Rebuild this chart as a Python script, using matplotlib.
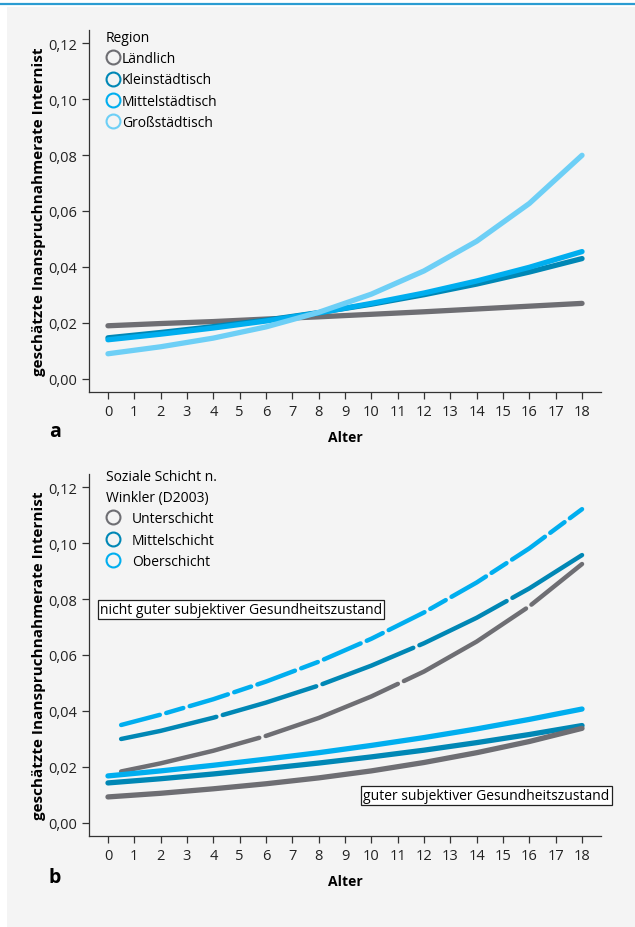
import matplotlib
matplotlib.use("Agg")
import matplotlib.pyplot as plt
from matplotlib.patches import Rectangle
from matplotlib.lines import Line2D

plt.rcParams['font.family'] = ['Open Sans', 'DejaVu Sans']

# --- data (age in years, predicted rate) ---
ages = [0, 2, 4, 6, 8, 10, 12, 14, 16, 18]

# panel a: region
region_names = ['Ländlich', 'Kleinstädtisch', 'Mittelstädtisch', 'Großstädtisch']
laendlich = [0.0190, 0.0198, 0.0205, 0.0214, 0.0222, 0.0231, 0.0240, 0.0250, 0.0260, 0.0270]
klein = [0.0147, 0.0166, 0.0187, 0.0210, 0.0237, 0.0267, 0.0301, 0.0339, 0.0382, 0.0430]
mittel = [0.0140, 0.0160, 0.0182, 0.0207, 0.0236, 0.0270, 0.0307, 0.0350, 0.0399, 0.0455]
gross = [0.0090, 0.0115, 0.0146, 0.0186, 0.0238, 0.0303, 0.0386, 0.0492, 0.0627, 0.0799]

# panel b: social class x self-rated health
schicht_names = ['Unterschicht', 'Mittelschicht', 'Oberschicht']
ages_ng = [0.5, 2, 4, 6, 8, 10, 12, 14, 16, 18]
unter_ng = [0.0184, 0.0213, 0.0258, 0.0311, 0.0375, 0.0452, 0.0541, 0.0648, 0.0774, 0.0925]
mittel_ng = [0.0300, 0.0329, 0.0376, 0.0430, 0.0491, 0.0562, 0.0642, 0.0733, 0.0838, 0.0957]
ober_ng = [0.0350, 0.0387, 0.0442, 0.0505, 0.0576, 0.0658, 0.0752, 0.0859, 0.0981, 0.1121]
unter_g = [0.0093, 0.0106, 0.0122, 0.0140, 0.0161, 0.0186, 0.0216, 0.0251, 0.0291, 0.0338]
mittel_g = [0.0143, 0.0158, 0.0175, 0.0194, 0.0214, 0.0236, 0.0260, 0.0287, 0.0316, 0.0348]
ober_g = [0.0168, 0.0186, 0.0206, 0.0228, 0.0251, 0.0277, 0.0305, 0.0336, 0.0370, 0.0407]

yticks = [0.0, 0.02, 0.04, 0.06, 0.08, 0.10, 0.12]
ylabels = ['0,00', '0,02', '0,04', '0,06', '0,08', '0,10', '0,12']
xticks = list(range(0, 19))

GRAY = '#6e6e73'
DARK = '#0087b5'
MID = '#00aeef'
LIGHT = '#6dcff6'
BG = '#f4f4f4'

W, H = 635, 928
fig = plt.figure(figsize=(W / 100, H / 100), dpi=100)
fig.patch.set_facecolor('white')
# grey page panel and blue rule on top
fig.add_artist(Rectangle((7 / W, 0), 1, 1 - 8 / H, transform=fig.transFigure,
                         facecolor=BG, edgecolor='none', zorder=-10))
fig.add_artist(Line2D([0, 1], [1 - 5 / H, 1 - 5 / H], transform=fig.transFigure,
                      color='#2b9cd2', lw=1.6, zorder=-5))


def style_axes(ax):
    ax.set_facecolor('none')
    ax.set_xlim(-0.72, 18.72)
    ax.set_ylim(-0.0048, 0.1248)
    for s in ['top', 'right']:
        ax.spines[s].set_visible(False)
    for s in ['left', 'bottom']:
        ax.spines[s].set_color('#333333')
        ax.spines[s].set_linewidth(0.9)
    ax.set_yticks(yticks)
    ax.set_yticklabels(ylabels)
    ax.set_xticks(xticks)
    ax.set_xticklabels([str(t) for t in xticks])
    ax.tick_params(axis='both', labelsize=10.5, colors='#333333', labelcolor='#222222',
                   length=5, width=0.9)
    ax.tick_params(axis='x', pad=3)
    ax.set_xlabel('Alter', fontsize=10, fontweight='bold', labelpad=8)
    ax.set_ylabel('geschätzte Inanspruchnahmerate Internist', fontsize=11,
                  fontweight='bold', labelpad=2)


def add_legend(ax, names, colors, title, x, y, textpad, title_ls=1.2):
    handles = [Line2D([], [], ls='none', marker='o', ms=10, mfc='none', mew=1.5, mec=c)
               for c in colors]
    leg = ax.legend(handles, names, title=title, loc='upper left',
                    bbox_to_anchor=(x / W, 1 - y / H), bbox_transform=fig.transFigure,
                    frameon=False, fontsize=10, title_fontsize=10, handlelength=1.0,
                    handletextpad=textpad, labelspacing=0.45, borderaxespad=0,
                    borderpad=0)
    leg.get_title().set_linespacing(title_ls)
    leg._legend_box.align = 'left'
    return leg


left = 89 / W
width = 512 / W

# ---------------- panel a ----------------
ax1 = fig.add_axes([left, 1 - 393.4 / H, width, 362.8 / H])
style_axes(ax1)
lw = 3.8
ax1.plot(ages, laendlich, color=GRAY, lw=lw, solid_capstyle='round')
ax1.plot(ages, klein, color=DARK, lw=lw, solid_capstyle='round')
ax1.plot(ages, mittel, color=MID, lw=lw, solid_capstyle='round')
ax1.plot(ages, gross, color=LIGHT, lw=lw, solid_capstyle='round')
add_legend(ax1, region_names, [GRAY, DARK, MID, LIGHT], 'Region', 106, 31, 0.15)

fig.text(49 / W, 1 - 432 / H, 'a', fontsize=14, fontweight='bold', ha='left', va='center')

# ---------------- panel b ----------------
ax2 = fig.add_axes([left, 1 - 837.4 / H, width, 362.8 / H])
style_axes(ax2)
ax2.plot(ages_ng, ober_ng, color=MID, lw=3.2, ls=(0, (9, 1.5, 4, 1.5)), dash_capstyle='round')
ax2.plot(ages_ng, mittel_ng, color=DARK, lw=3.2, ls=(0, (22, 1.5)), dash_capstyle='round')
ax2.plot(ages_ng, unter_ng, color=GRAY, lw=3.2, ls=(0, (32, 1.5)), dash_capstyle='round')
ax2.plot(ages, ober_g, color=MID, lw=3.8, solid_capstyle='round')
ax2.plot(ages, mittel_g, color=DARK, lw=3.8, solid_capstyle='round')
ax2.plot(ages, unter_g, color=GRAY, lw=3.8, solid_capstyle='round')
add_legend(ax2, schicht_names, [GRAY, DARK, MID], 'Soziale Schicht n.\nWinkler (D2003)',
           106, 470, 0.85, title_ls=1.55)

box = dict(boxstyle='square,pad=0.15', facecolor='white', edgecolor='#222222', lw=0.9)
ax2.text(-0.3, 0.0764, 'nicht guter subjektiver Gesundheitszustand', fontsize=10,
         ha='left', va='center', bbox=box)
ax2.text(9.7, 0.0098, 'guter subjektiver Gesundheitszustand', fontsize=10,
         ha='left', va='center', bbox=box, clip_on=False)

fig.text(49 / W, 1 - 878 / H, 'b', fontsize=14, fontweight='bold', ha='left', va='center')

fig.savefig('out.png', dpi=100)
